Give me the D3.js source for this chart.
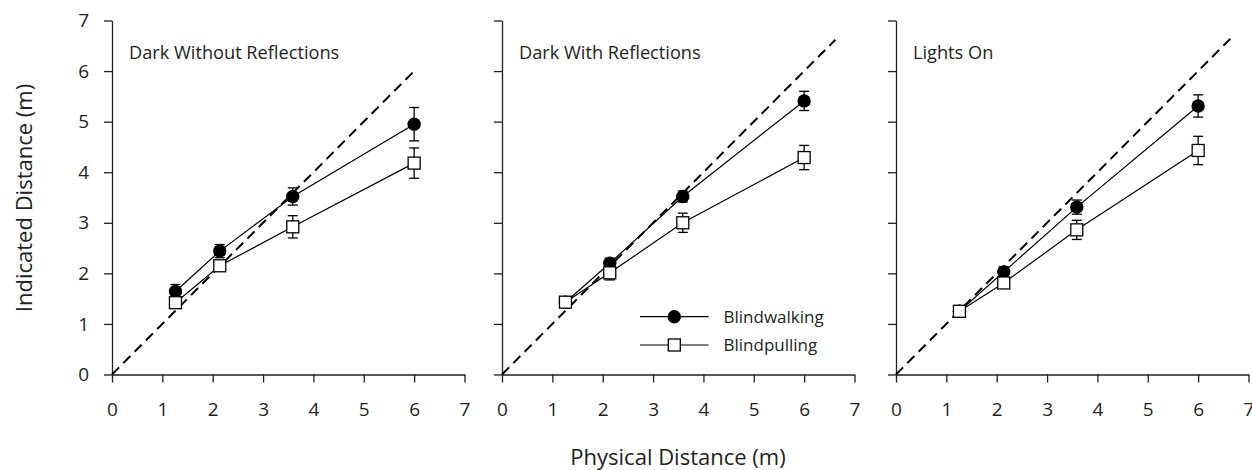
<!DOCTYPE html>
<html>
<head>
<meta charset="utf-8">
<script src="https://cdn.jsdelivr.net/npm/d3@7"></script>
<style>
  body { margin: 0; background: #fff; }
  text { font-family: "Open Sans", sans-serif; fill: #231f20; }
  .axis path, .axis line { stroke: #231f20; stroke-width: 1.3; }
</style>
</head>
<body>
<svg id="chart" width="1252" height="470"></svg>
<script>
// values
var panelTitles = ["Dark Without Reflections", "Dark With Reflections", "Lights On"];
var physical = [1.26, 2.14, 3.59, 6.0];
var walkMeans = [[1.64, 2.44, 3.52, 4.95], [1.43, 2.20, 3.52, 5.41], [1.25, 2.03, 3.31, 5.31]];
var walkErr   = [[0.14, 0.13, 0.17, 0.33], [0.08, 0.10, 0.11, 0.19], [0.06, 0.10, 0.14, 0.22]];
var pullMeans = [[1.42, 2.15, 2.92, 4.18], [1.43, 2.01, 3.00, 4.29], [1.25, 1.81, 2.86, 4.43]];
var pullErr   = [[0.09, 0.09, 0.22, 0.30], [0.08, 0.14, 0.19, 0.24], [0.06, 0.08, 0.19, 0.28]];
var diagonalEnd = [6.0, 6.62, 6.64];
var tickValues = [0, 1, 2, 3, 4, 5, 6, 7];
var seriesNames = ["Blindwalking", "Blindpulling"];
var xTitle = "Physical Distance (m)";
var yTitle = "Indicated Distance (m)";

var svg = d3.select("#chart");
var panelLeft = [112, 502, 896],
    panelWidth = 352.5,
    plotTop = 20.5, plotBottom = 374.5;

var y = d3.scaleLinear().domain([0, 7]).range([plotBottom, plotTop]);

panelTitles.forEach(function(title, p) {
  var x = d3.scaleLinear().domain([0, 7]).range([panelLeft[p], panelLeft[p] + panelWidth]);

  // axes
  var gx = svg.append("g")
      .attr("class", "axis")
      .attr("transform", "translate(0," + plotBottom + ")")
      .call(d3.axisBottom(x).tickValues(tickValues).tickSize(8).tickSizeOuter(0).tickPadding(20)
            .tickFormat(d3.format("d")));
  var gy = svg.append("g")
      .attr("class", "axis")
      .attr("transform", "translate(" + panelLeft[p] + ",0)")
      .call(d3.axisLeft(y).tickValues(tickValues).tickSize(8).tickSizeOuter(0).tickPadding(15)
            .tickFormat(p === 0 ? d3.format("d") : ""));
  [gx, gy].forEach(function(g) {
    g.attr("font-family", null).attr("font-size", null);
    g.selectAll("text").style("font-size", "19px");
  });

  var plot = svg.append("g");

  // identity line
  plot.append("line")
      .attr("x1", x(0)).attr("y1", y(0))
      .attr("x2", x(diagonalEnd[p])).attr("y2", y(diagonalEnd[p]))
      .attr("stroke", "#000")
      .attr("stroke-width", 2)
      .attr("stroke-dasharray", "10 6");

  var line = d3.line()
      .x(function(d) { return x(d.x); })
      .y(function(d) { return y(d.m); });

  var series = [
    { means: walkMeans[p], err: walkErr[p], shape: "circle" },
    { means: pullMeans[p], err: pullErr[p], shape: "square" }
  ];

  series.forEach(function(s) {
    var pts = physical.map(function(px, i) { return { x: px, m: s.means[i], e: s.err[i] }; });

    plot.append("path")
        .datum(pts)
        .attr("d", line)
        .attr("fill", "none")
        .attr("stroke", "#000")
        .attr("stroke-width", 1.2);

    var eb = plot.append("g").selectAll("g").data(pts).enter().append("g")
        .attr("stroke", "#000").attr("stroke-width", 1.3);
    eb.append("line")
        .attr("x1", function(d) { return x(d.x); })
        .attr("x2", function(d) { return x(d.x); })
        .attr("y1", function(d) { return y(d.m - d.e); })
        .attr("y2", function(d) { return y(d.m + d.e); });
    [-1, 1].forEach(function(sign) {
      eb.append("line")
          .attr("x1", function(d) { return x(d.x) - 5; })
          .attr("x2", function(d) { return x(d.x) + 5; })
          .attr("y1", function(d) { return y(d.m + sign * d.e); })
          .attr("y2", function(d) { return y(d.m + sign * d.e); });
    });

    if (s.shape === "circle") {
      plot.append("g").selectAll("circle").data(pts).enter().append("circle")
          .attr("cx", function(d) { return x(d.x); })
          .attr("cy", function(d) { return y(d.m); })
          .attr("r", 6.7)
          .attr("fill", "#000");
    } else {
      plot.append("g").selectAll("rect").data(pts).enter().append("rect")
          .attr("x", function(d) { return x(d.x) - 6; })
          .attr("y", function(d) { return y(d.m) - 6; })
          .attr("width", 12).attr("height", 12)
          .attr("fill", "#fff")
          .attr("stroke", "#000")
          .attr("stroke-width", 1.3);
    }
  });

  svg.append("text")
      .attr("x", panelLeft[p] + 17)
      .attr("y", 58.5)
      .style("font-size", "18.2px")
      .text(title);

  // legend sits in the middle panel
  if (p === 1) {
    var lg = svg.append("g").attr("transform", "translate(" + panelLeft[p] + ",0)");
    seriesNames.forEach(function(name, i) {
      var ly = 316.7 + i * 28.3;
      lg.append("line")
          .attr("x1", 138).attr("x2", 206.5)
          .attr("y1", ly).attr("y2", ly)
          .attr("stroke", "#000").attr("stroke-width", 1.2);
      if (i === 0) {
        lg.append("circle").attr("cx", 172.3).attr("cy", ly).attr("r", 6.7).attr("fill", "#000");
      } else {
        lg.append("rect").attr("x", 166.3).attr("y", ly - 6).attr("width", 12).attr("height", 12)
            .attr("fill", "#fff").attr("stroke", "#000").attr("stroke-width", 1.3);
      }
      lg.append("text")
          .attr("x", 221.5)
          .attr("y", ly)
          .attr("dy", "0.35em")
          .style("font-size", "17px")
          .text(name);
    });
  }
});

svg.append("text")
    .attr("x", 678)
    .attr("y", 465)
    .attr("text-anchor", "middle")
    .style("font-size", "22px")
    .text(xTitle);

svg.append("text")
    .attr("transform", "translate(32,198) rotate(-90)")
    .attr("text-anchor", "middle")
    .style("font-size", "22px")
    .text(yTitle);
</script>
</body>
</html>
